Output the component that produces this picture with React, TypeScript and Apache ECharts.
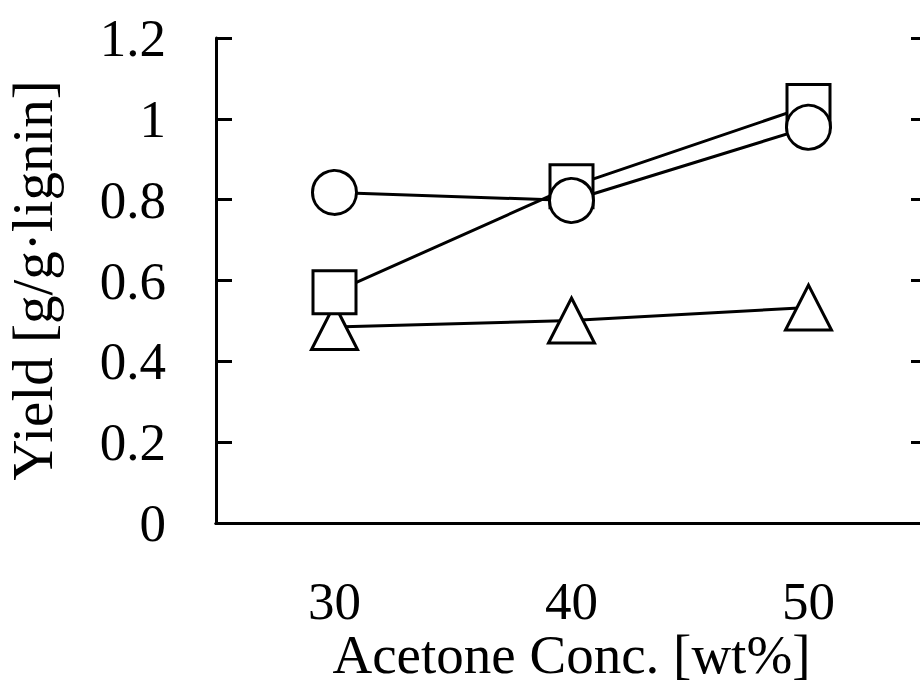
import React, { useEffect, useRef } from "react";
import * as echarts from "echarts";

const acetone = [30, 40, 50];
const circleYield = [0.818, 0.798, 0.979];
const squareYield = [0.571, 0.833, 1.032];
const triangleYield = [0.485, 0.501, 0.533];
const xTickValues = [30, 40, 50];
const xTitle = "Acetone Conc. [wt%]";
const yTitle = "Yield [g/g·lignin]";

const FONT = "Liberation Serif";

function pairs(xs: number[], ys: number[]) {
  return xs.map((x, i) => [x, ys[i]]);
}

export default function App() {
  const ref = useRef<HTMLDivElement>(null);
  useEffect(() => {
    document.body.style.margin = "0";
    const chart = echarts.init(ref.current!, null, { renderer: "svg" });
    const markerStyle = { color: "#fff", borderColor: "#000", borderWidth: 3 };
    const lineStyle = { color: "#000", width: 3 };
    chart.setOption({
      animation: false,
      backgroundColor: "#fff",
      grid: { left: 216, top: 38, width: 711, height: 485, outerBoundsMode: "none", containLabel: false },
      xAxis: [
        {
          type: "value",
          min: 25,
          max: 55,
          interval: 5,
          position: "bottom",
          splitLine: { show: false },
          axisLine: { lineStyle: { color: "#000", width: 3 } },
          axisTick: { show: false },
          axisLabel: {
            customValues: xTickValues,
            color: "#000",
            fontFamily: FONT,
            fontSize: 53,
            lineHeight: 44,
            margin: 56,
          },
          name: xTitle,
          nameLocation: "middle",
          nameGap: 109,
          nameMoveOverlap: false,
          nameTextStyle: { color: "#000", fontFamily: FONT, fontSize: 55, verticalAlign: "top", lineHeight: 44 },
        },
        {
          type: "value",
          min: 25,
          max: 55,
          position: "top",
          splitLine: { show: false },
          axisLine: { lineStyle: { color: "#000", width: 3 } },
          axisTick: { show: false },
          axisLabel: { show: false },
        },
      ],
      yAxis: [
        {
          type: "value",
          min: 0,
          max: 1.2,
          interval: 0.2,
          position: "left",
          splitLine: { show: false },
          axisLine: { show: true, lineStyle: { color: "#000", width: 3 } },
          axisTick: { show: true, inside: true, length: 16, lineStyle: { color: "#000", width: 3 } },
          axisLabel: { color: "#000", fontFamily: FONT, fontSize: 53, margin: 50 },
          name: yTitle,
          nameLocation: "middle",
          nameGap: 155,
          nameRotate: 90,
          nameMoveOverlap: false,
          nameTextStyle: { color: "#000", fontFamily: FONT, fontSize: 57 },
        },
        {
          type: "value",
          min: 0,
          max: 1.2,
          interval: 0.2,
          position: "right",
          splitLine: { show: false },
          axisLine: { show: true, lineStyle: { color: "#000", width: 3 } },
          axisTick: { show: true, inside: true, length: 16, lineStyle: { color: "#000", width: 3 } },
          axisLabel: { show: false },
        },
      ],
      series: [
        {
          type: "line",
          data: pairs(acetone, triangleYield),
          symbol: "triangle",
          symbolSize: [46, 45],
          lineStyle,
          itemStyle: markerStyle,
          z: 2,
        },
        {
          type: "line",
          data: pairs(acetone, squareYield),
          symbol: "rect",
          symbolSize: 43,
          lineStyle,
          itemStyle: markerStyle,
          z: 3,
        },
        {
          type: "line",
          data: pairs(acetone, circleYield),
          symbol: "circle",
          symbolSize: 44,
          lineStyle,
          itemStyle: markerStyle,
          z: 4,
        },
      ],
    });
    return () => chart.dispose();
  }, []);
  return <div ref={ref} style={{ width: 920, height: 688 }} />;
}
